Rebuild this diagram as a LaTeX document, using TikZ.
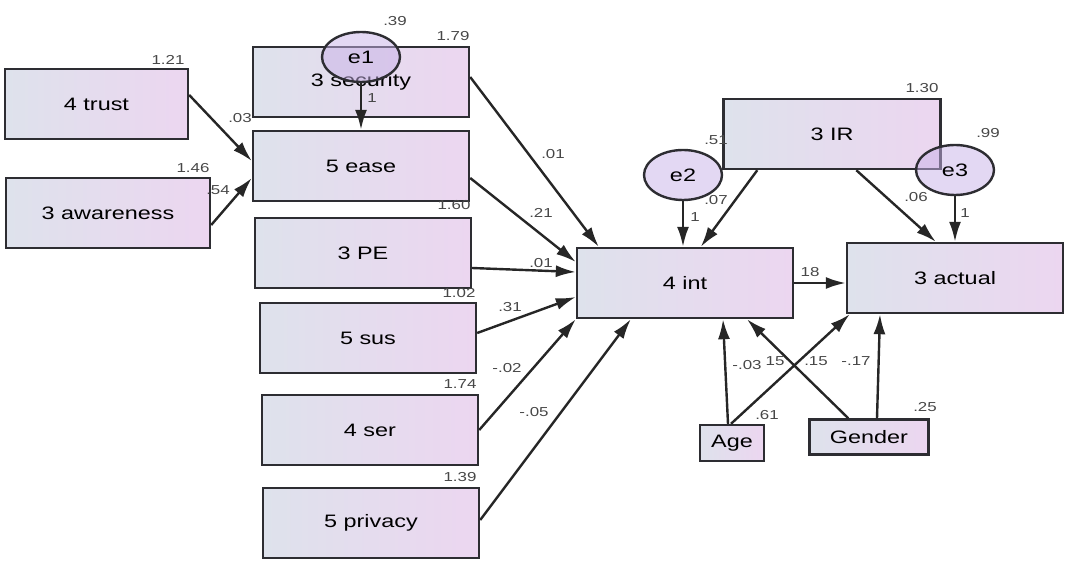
\documentclass[tikz,border=0pt]{standalone}
\usepackage{fontspec}
\setmainfont{Liberation Sans}
\newfontfamily\widefont[FakeStretch=1.3]{Liberation Sans}
\usepackage{xcolor}
\usepackage{tikz}
\usetikzlibrary{shapes.geometric, arrows.meta, positioning}
\definecolor{boxleft}{RGB}{222, 226, 236}
\definecolor{boxright}{RGB}{236, 214, 240}
\definecolor{errfill}{RGB}{200, 178, 232}
\definecolor{edgegray}{RGB}{45, 45, 50}

\tikzset{
    var/.style={draw=edgegray, line width=2.4pt, left color=boxleft, right color=boxright,
        minimum width=216pt, minimum height=70pt, inner sep=0pt, font=\widefont\fontsize{18}{21}\selectfont},
    err/.style={ellipse, draw=edgegray, line width=2.4pt, fill=errfill, fill opacity=0.5, text opacity=1,
        minimum width=78pt, minimum height=50pt, inner sep=0pt, font=\widefont\fontsize{18}{21}\selectfont},
    arr/.style={-{Latex[length=20pt, width=12pt]}, line width=2.4pt, draw=black!85},
    val/.style={font=\widefont\fontsize{13}{15}\selectfont, text=black!72, inner sep=1pt}
}

\begin{document}
\begin{tikzpicture}[x=1pt, y=-1pt]
    \useasboundingbox (0,0) rectangle (1071,561);

    % Observed variables (left column)
    \node[var, minimum width=183pt] (trust) at (96.5,104) {4 trust};
    \node[var, minimum width=204pt] (aware) at (108,213) {3 awareness};
    \node[var] (secur) at (361,82) {3 security};
    \node[var] (ease) at (361,166) {5 ease};
    \node[var] (pe) at (363,253) {3 PE};
    \node[var] (sus) at (368,338) {5 sus};
    \node[var] (ser) at (370,430) {4 ser};
    \node[var] (priv) at (371,523) {5 privacy};

    % Outcome side
    \node[var] (int) at (685,283) {4 int};
    \node[var] (actual) at (955,278) {3 actual};
    \node[var, minimum width=217pt] (ir) at (832,134) {3 IR};
    \node[var, minimum width=64pt, minimum height=36pt] (age) at (732,443) {Age};
    \node[var, minimum width=119pt, minimum height=35pt] (gender) at (869,437) {Gender};

    % Error terms
    \node[err] (e1) at (361,57) {e1};
    \node[err] (e2) at (683,175) {e2};
    \node[err] (e3) at (955,170) {e3};

    % Paths into 5 ease
    \draw[arr] (e1.south) -- (ease.north);
    \draw[arr] ([yshift=9pt]trust.east) -- ([yshift=5pt]ease.west);
    \draw[arr] ([yshift=-12pt]aware.east) -- ([yshift=-12pt]ease.west);

    % Paths into 4 int
    \draw[arr] ([yshift=5pt]secur.east) -- ([xshift=23pt]int.north west);
    \draw[arr] ([yshift=-12pt]ease.east) -- ([yshift=21pt]int.west);
    \draw[arr] ([yshift=-15pt]pe.east) -- ([yshift=11pt]int.west);
    \draw[arr] ([yshift=5pt]sus.east) -- ([yshift=-14pt]int.west);
    \draw[arr] (ser.east) -- (int.south west);
    \draw[arr] ([yshift=3pt]priv.east) -- ([xshift=55pt]int.south west);
    \draw[arr] (e2.south) -- (e2.south |- int.north);
    \draw[arr] ([xshift=35pt]ir.south west) -- ([xshift=125pt]int.north west);
    \draw[arr] ([xshift=-4pt]age.north) -- ([xshift=38pt]int.south);
    \draw[arr] ([xshift=40pt]gender.north west) -- ([xshift=62pt]int.south);

    % Paths into 3 actual
    \draw[arr] (int.east) -- (int.east -| actual.west);
    \draw[arr] ([xshift=134pt]ir.south west) -- ([xshift=90pt]actual.north west);
    \draw[arr] (e3.south) -- (e3.south |- actual.north);
    \draw[arr] ([xshift=-1pt]age.north) -- ([xshift=4pt]actual.south west);
    \draw[arr] ([xshift=8pt]gender.north) -- ([xshift=-75pt]actual.south);

    % Estimates
    \node[val] (v39) at (395,21) {.39};
    \node[val] (v121) at (168,60) {1.21};
    \node[val] (v146) at (193,168) {1.46};
    \node[val] (v03) at (240,118) {.03};
    \node[val] (v54) at (218,190) {.54};
    \node[val] (v179) at (453,36) {1.79};
    \node[val] (w1) at (372,98) {1};
    \node[val] (v160) at (454,205) {1.60};
    \node[val] (v01a) at (553,154) {.01};
    \node[val] (v21) at (541,213) {.21};
    \node[val] (v01b) at (541,263) {.01};
    \node[val] (v102) at (459,293) {1.02};
    \node[val] (v31) at (510,307) {.31};
    \node[val] (vm02) at (507,368) {-.02};
    \node[val] (v174) at (460,384) {1.74};
    \node[val] (vm05) at (534,412) {-.05};
    \node[val] (v139) at (460,477) {1.39};
    \node[val] (v130) at (922,88) {1.30};
    \node[val] (v51) at (716,140) {.51};
    \node[val] (v99) at (988,133) {.99};
    \node[val] (v07) at (716,200) {.07};
    \node[val] (w2) at (695,217) {1};
    \node[val] (v06) at (916,197) {.06};
    \node[val] (w3) at (965,213) {1};
    \node[val] (v18) at (810,272) {18};
    \node[val] (vm03) at (747,365) {-.03};
    \node[val] (v15a) at (775,361) {15};
    \node[val] (v15b) at (816,361) {.15};
    \node[val] (vm17) at (856,361) {-.17};
    \node[val] (v61) at (767,415) {.61};
    \node[val] (v25) at (925,407) {.25};
\end{tikzpicture}
\end{document}
